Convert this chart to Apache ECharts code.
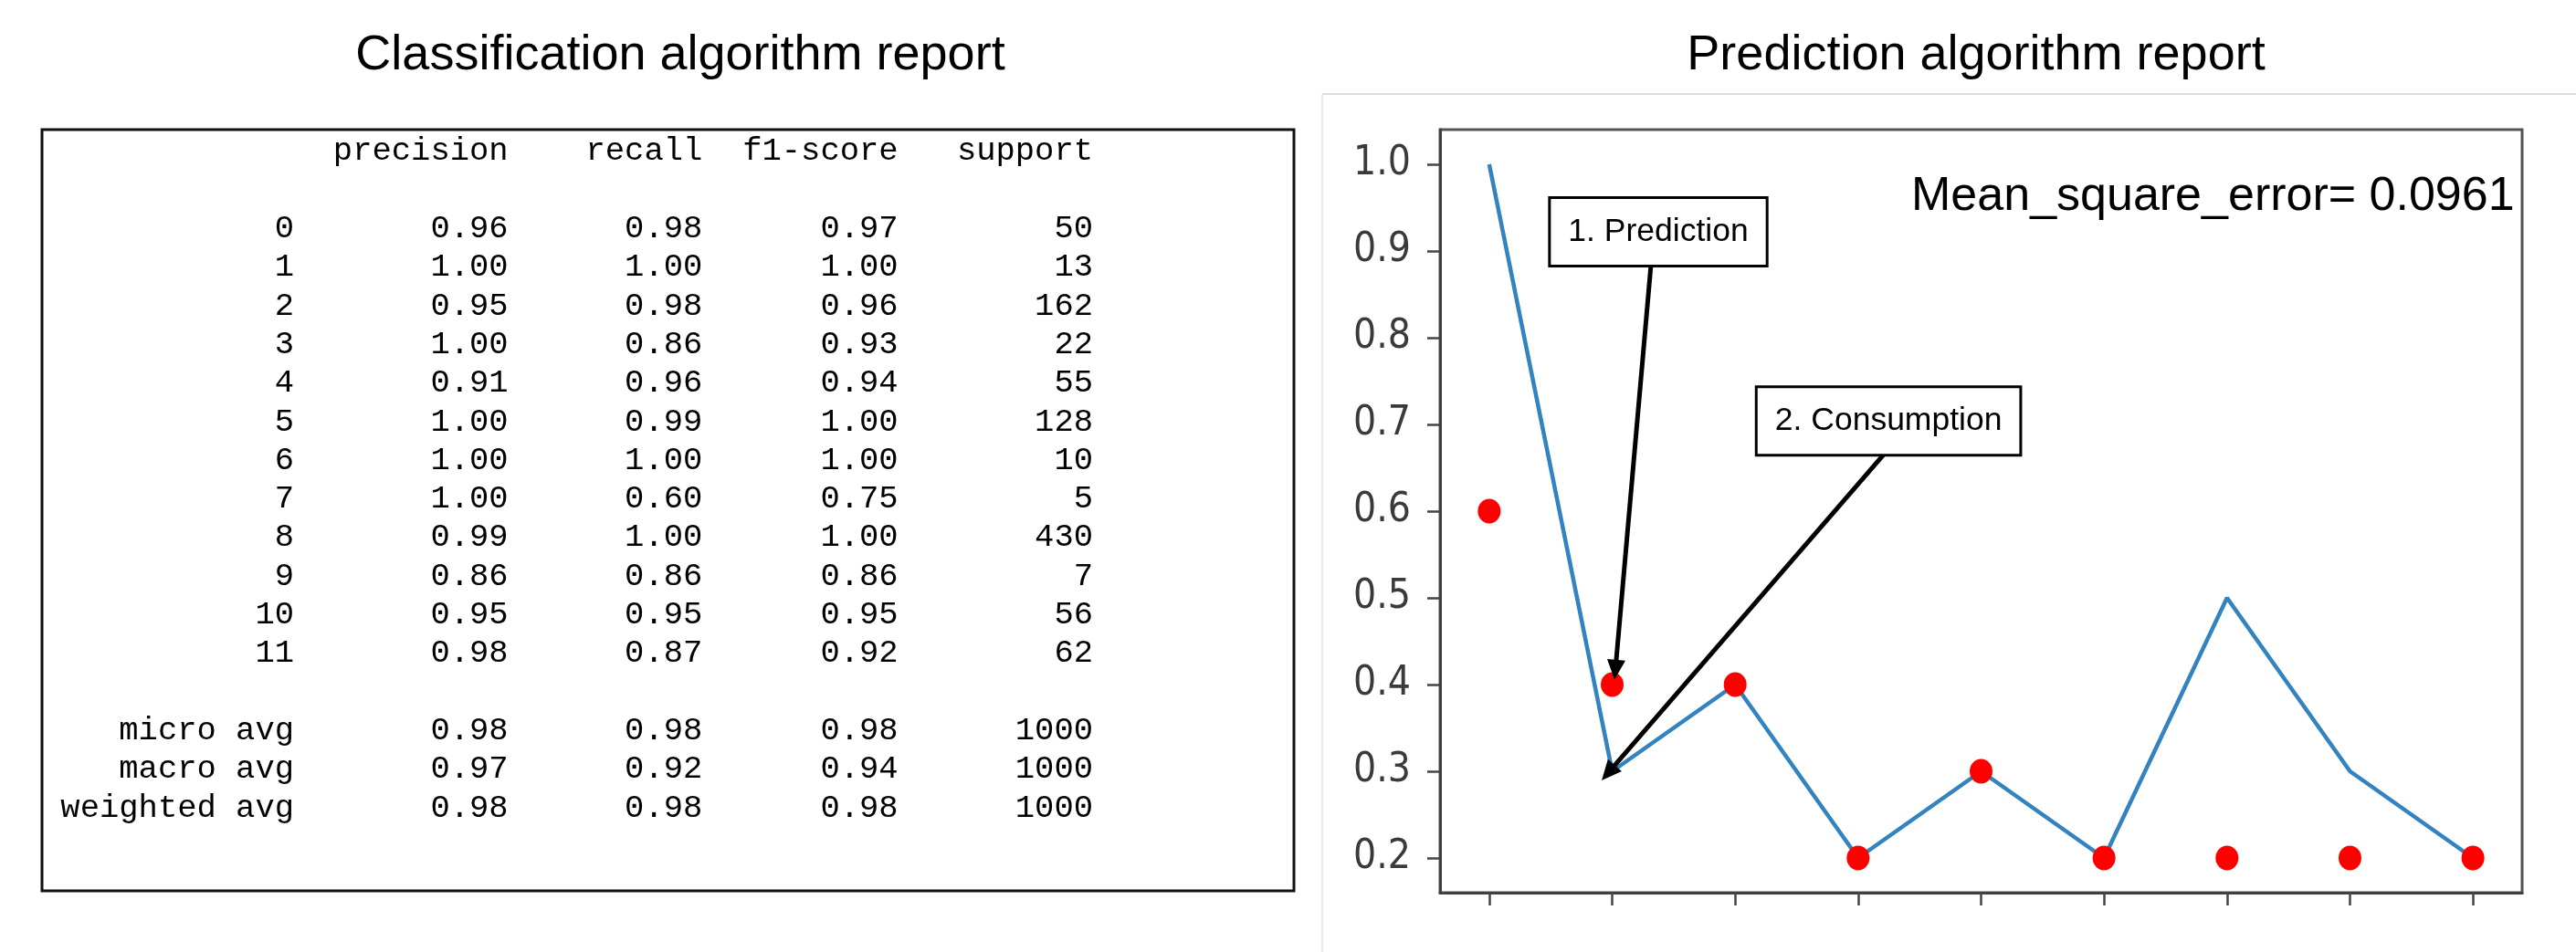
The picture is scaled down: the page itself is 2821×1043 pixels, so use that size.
<!DOCTYPE html>
<html><head><meta charset="utf-8">
<script src="https://cdn.jsdelivr.net/npm/echarts@6/dist/echarts.min.js"></script>
<style>html,body{margin:0;padding:0;background:#fff}#c{width:2821px;height:1043px}</style>
</head><body><div id="c"></div>
<script>
// ---------- data ----------
const panelTitles = ['Classification algorithm report', 'Prediction algorithm report'];
const reportColumns = ['precision', 'recall', 'f1-score', 'support'];
const reportRows = ['0','1','2','3','4','5','6','7','8','9','10','11','micro avg','macro avg','weighted avg'];
const precision = [0.96,1.00,0.95,1.00,0.91,1.00,1.00,1.00,0.99,0.86,0.95,0.98,0.98,0.97,0.98];
const recall    = [0.98,1.00,0.98,0.86,0.96,0.99,1.00,0.60,1.00,0.86,0.95,0.87,0.98,0.92,0.98];
const f1Score   = [0.97,1.00,0.96,0.93,0.94,1.00,1.00,0.75,1.00,0.86,0.95,0.92,0.98,0.94,0.98];
const support   = [50,13,162,22,55,128,10,5,430,7,56,62,1000,1000,1000];

const sampleIndex = [0,1,2,3,4,5,6,7,8];
const consumption = [1.0,0.3,0.4,0.2,0.3,0.2,0.5,0.3,0.2];
const prediction  = [0.6,0.4,0.4,0.2,0.3,0.2,0.2,0.2,0.2];
const yTicks = [0.2,0.3,0.4,0.5,0.6,0.7,0.8,0.9,1.0];
const annotationTexts = ['1. Prediction', '2. Consumption'];
const mseLabel = 'Mean_square_error= 0.0961';

// ---------- layout ----------
const chart = echarts.init(document.getElementById('c'), null, {renderer: 'canvas'});
const monoFont = '"Liberation Mono", "Courier New", monospace';
const sansFont = '"Liberation Sans", Arial, Helvetica, sans-serif';
const tableLineY = L => 166 + L * 42.3;
const labelRight = 322;
const colRight = [556.6, 769.3, 983.6, 1197];

const graphics = [];
// titles
graphics.push({type:'text', x:745, y:61, style:{text:panelTitles[0], fontSize:54, fontFamily:sansFont, fill:'#000', align:'center', verticalAlign:'middle'}});
graphics.push({type:'text', x:2164, y:61, style:{text:panelTitles[1], fontSize:54, fontFamily:sansFont, fill:'#000', align:'center', verticalAlign:'middle'}});
// left report box
graphics.push({type:'rect', shape:{x:46, y:142, width:1371, height:834}, style:{fill:'none', stroke:'#111', lineWidth:3}});
// right panel light frame
graphics.push({type:'line', shape:{x1:1448, y1:103, x2:2821, y2:103}, style:{stroke:'#dcdcdc', lineWidth:2}});
graphics.push({type:'line', shape:{x1:1448, y1:103, x2:1448, y2:1043}, style:{stroke:'#ececec', lineWidth:2}});
// table header
reportColumns.forEach((c, j) => {
  graphics.push({type:'text', x:colRight[j], y:tableLineY(0), style:{text:c, fontSize:35.5, fontFamily:monoFont, fill:'#000', align:'right', verticalAlign:'middle'}});
});
// table rows
reportRows.forEach((r, i) => {
  const L = i < 12 ? i + 2 : i + 3;
  const y = tableLineY(L);
  const cells = [r, precision[i].toFixed(2), recall[i].toFixed(2), f1Score[i].toFixed(2), String(support[i])];
  const xs = [labelRight].concat(colRight);
  cells.forEach((t, j) => {
    graphics.push({type:'text', x:xs[j], y:y, style:{text:t, fontSize:35.5, fontFamily:monoFont, fill:'#000', align:'right', verticalAlign:'middle'}});
  });
});

const boxLabel = (txt) => ({
  show:true, position:'inside', formatter: txt, fontSize:35.5, fontFamily:sansFont, color:'#000',
  backgroundColor:'#fff', borderColor:'#000', borderWidth:3, padding:[16,19], lineHeight:40
});

const option = {
  animation:false,
  backgroundColor:'#fff',
  graphic: graphics,
  grid: {left:1577, top:142, width:1185, height:836, show:true, borderColor:'#555', borderWidth:3, containLabel:false},
  xAxis: {
    type:'value', min:-0.4, max:8.4,
    axisLine:{show:true, onZero:false, lineStyle:{color:'#404040', width:3}},
    axisTick:{show:true, customValues:sampleIndex, length:14, inside:false, lineStyle:{color:'#444', width:2.5}},
    axisLabel:{show:false},
    splitLine:{show:false}
  },
  yAxis: {
    type:'value', min:0.16, max:1.04,
    axisLine:{show:true, onZero:false, lineStyle:{color:'#404040', width:3}},
    axisTick:{show:true, customValues:yTicks, length:14, inside:false, lineStyle:{color:'#444', width:2.5}},
    axisLabel:{show:true, customValues:yTicks, margin:32, formatter:v => v.toFixed(1), fontSize:44,
      fontFamily:'"Liberation Sans Narrow", "DejaVu Sans Condensed", "Roboto Condensed", "Liberation Sans", sans-serif', color:'#3a3a3a'},
    splitLine:{show:false}
  },
  series: [
    {
      type:'line', data: sampleIndex.map((x, i) => [x, consumption[i]]),
      showSymbol:false, symbol:'none', lineStyle:{color:'#3283c0', width:4.5}, z:2,
      markLine: {
        silent:true, symbol:['none','triangle'], symbolSize:[20,22],
        label:{show:false},
        lineStyle:{color:'#000', width:5, type:'solid'},
        data: [
          [{coord:[1.3135, 0.8812]}, {coord:[1.026, 0.417]}],
          [{coord:[3.204, 0.6646]}, {coord:[0.968, 0.2982]}]
        ]
      },
      markPoint: {
        silent:true,
        data: [
          {coord:[1.375, 0.922], symbol:'rect', symbolSize:1, itemStyle:{color:'rgba(0,0,0,0)'}, label: boxLabel(annotationTexts[0])},
          {coord:[3.247, 0.704], symbol:'rect', symbolSize:1, itemStyle:{color:'rgba(0,0,0,0)'}, label: boxLabel(annotationTexts[1])},
          {coord:[5.885, 0.962], symbol:'rect', symbolSize:1, itemStyle:{color:'rgba(0,0,0,0)'},
           label:{show:true, position:'inside', formatter: mseLabel, fontSize:52, fontFamily:sansFont, color:'#000'}}
        ]
      }
    },
    {
      type:'scatter', data: sampleIndex.map((x, i) => [x, prediction[i]]),
      symbol:'circle', symbolSize:[25,27], itemStyle:{color:'#ff0000', opacity:1}, z:3
    }
  ]
};
chart.setOption(option);
</script></body></html>
